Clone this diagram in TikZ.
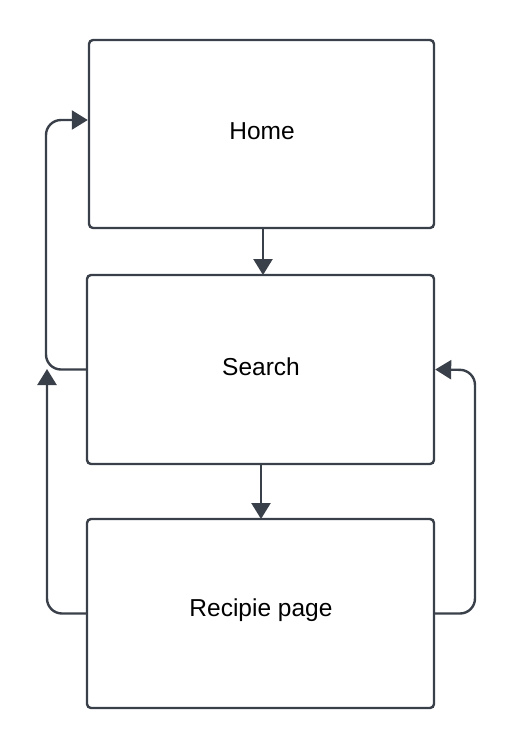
\documentclass[tikz,border=0pt]{standalone}
\usepackage{fontspec}
\setmainfont{Liberation Sans}
\usetikzlibrary{arrows.meta}
\definecolor{ink}{HTML}{3A4049}
\begin{document}
\begin{tikzpicture}[x=1pt,y=-1pt,
  box/.style={draw=ink,line width=2.4pt,rounded corners=4pt,fill=white,inner sep=0pt,font=\fontsize{24.5}{29}\selectfont},
  link/.style={draw=ink,line width=2.4pt,-{Triangle[length=16pt,width=19pt]},rounded corners=15pt}]
\useasboundingbox (0,0) rectangle (516,748);
\node[box,minimum width=345pt,minimum height=188pt] (home) at (261.5,134) {};
\node[box,minimum width=347pt,minimum height=189pt] (search) at (260.5,369.5) {};
\node[box,minimum width=347pt,minimum height=189pt] (recipe) at (260.5,613.5) {};
\node[font=\fontsize{24.5}{29}\selectfont,inner sep=0pt] (homet) at (262,131) {Home};
\node[font=\fontsize{24.5}{29}\selectfont,inner sep=0pt] (searcht) at (261,367) {Search};
\node[font=\fontsize{24.5}{29}\selectfont,inner sep=0pt] (recipet) at (261,610) {Recipie page};
\coordinate (freeend) at (47,369);
\draw[link] (263,228) -- (263,275);
\draw[link] (261,464) -- (261,519);
\draw[link] (search.west) -- (46,369.5) -- (46,120) -- (home.west |- 0,120);
\draw[link] (recipe.west) -- (47,613.5) -- (freeend);
\draw[link] (recipe.east) -- (475,613.5) -- (475,370) -- (search.east);
\end{tikzpicture}
\end{document}
